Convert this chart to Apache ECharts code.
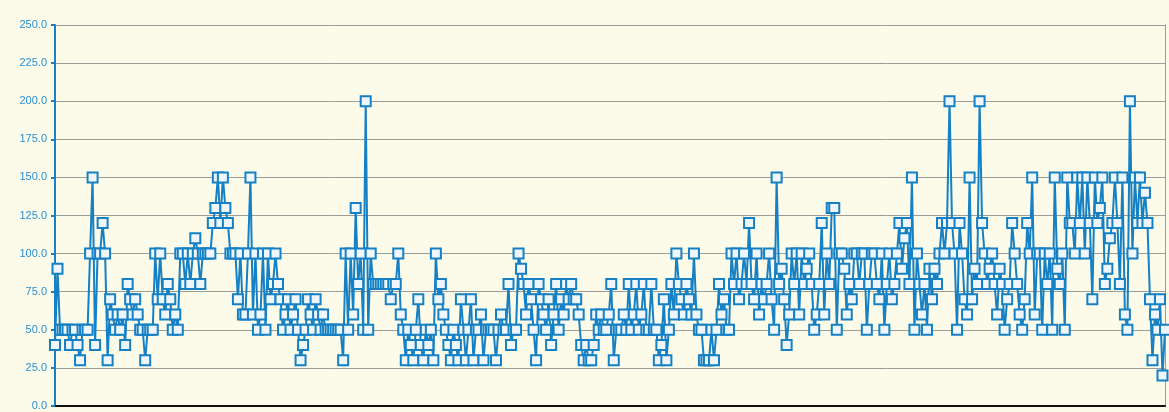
<!DOCTYPE html>
<html>
<head>
<meta charset="utf-8">
<script src="https://cdn.jsdelivr.net/npm/echarts@6/dist/echarts.min.js"></script>
<style>
html,body{margin:0;padding:0;background:#ffffff;}
#c{width:1169px;height:412px;}
</style>
</head>
<body>
<div id="c"></div>
<script>
// y-axis tick labels
var yTicks = [0, 25, 50, 75, 100, 125, 150, 175, 200, 225, 250];

// series values, read left to right in segments
var seg1 = [40,90,50,50,50,50,40,50, 50,40,30,50,50,50,100,150, 40,100,100,120,100,30,70,60,
            50,60,50,60,40,80,70,60, 70,60,50,50,30,50,50,50, 100,70,100,70,60,80,70,50,
            60,50,100,100,80,100,80,100, 110,100,80,100,100,100,100,120, 130,150,120,150,130,120,100,100,
            100,70,100,60,60,100,150,60, 100,50,60,100,50,100,70,80];
var seg2 = [100,80,70,50,60,70,50,60, 70,50,30,40,50,70,60,50, 70,60,50,60,50,50,50,50,
            50,50,50,30,100,50,100,60, 130,80,100,50,200,50,100,80, 80,80,80,80,80,80,70,80,
            80,100,60,50,30,50,40,30, 50,70,40,30,50,40,50,30, 100,70,80,60,50,40,30,50,
            40,30,70,50,30,50,70,30, 50,50,60,30,50,50,50,50, 30,50,60,50,50,80,40,50];
var seg3 = [50,100,90,80,60,80,70,50, 30,80,70,60,50,70,40,60, 80,50,70,60,80,70,80,70,
            70,60,40,30,40,30,30,40, 60,50,60,50,50,60,80,30, 50,50,50,60,50,80,50,60,
            80,50,60,80,50,50,80,50, 50,30,40,70,30,50,80,60, 100,80,70,60,80,70,60,100,
            60,50,50,30,30,30,50,30, 50,80,60,70,50,50,100,80];
var seg4 = [100,70,80,100,80,120,80,70, 100,60,80,70,80,100,70,50, 150,80,90,70,40,60,100,80,
            100,60,100,80,90,100,80,50, 60,80,120,60,100,80,130,130, 50,100,100,90,60,80,70,100,
            100,80,100,100,50,80,100,100, 80,70,100,50,80,100,70,80, 100,120,90,110,120,80,150,50,
            100,80,60,80,50,90,70,90];
var seg5 = [80,100,120,100,120,200,120,100, 50,120,100,70,60,150,70,90, 80,200,120,100,80,90,100,80,
            60,90,80,50,70,80,120,100, 80,60,50,70,120,100,150,60, 100,100,50,100,80,100,50,150,
            90,80,100,50,150,120,120,100, 150,120,150,100,150,120,70,150, 120,130,150,80,90,110,120,150,
            120,80,150,60,50,200,100,150, 120,150,120,140,120,70,30,60, 50,70,20,50];

var values = seg1.concat(seg2, seg3, seg4, seg5);
var categories = values.map(function(v, i){ return String(i + 1); });

var chart = echarts.init(document.getElementById('c'));
chart.setOption({
  backgroundColor: '#fcfae8',
  animation: false,
  grid: {left: 55, right: 4, top: 25, bottom: 6},
  xAxis: {
    type: 'category',
    data: categories,
    boundaryGap: false,
    axisLine: {show: true, lineStyle: {color: '#111111', width: 2}},
    axisTick: {show: false},
    axisLabel: {show: false},
    splitLine: {show: false}
  },
  yAxis: [{
    type: 'value',
    min: yTicks[0],
    max: yTicks[yTicks.length - 1],
    interval: yTicks[1] - yTicks[0],
    axisLine: {show: true, lineStyle: {color: '#1a80c4', width: 2}},
    axisTick: {show: true, length: 4, lineStyle: {color: '#1a80c4', width: 2}},
    axisLabel: {
      color: '#2b8fd0', fontSize: 11, fontFamily: 'Liberation Sans, Arial, sans-serif',
      margin: 8,
      formatter: function(v){ return v.toFixed(1); }
    },
    splitLine: {show: true, lineStyle: {color: '#9c9c98', width: 1}}
  }, {
    type: 'value',
    position: 'right',
    min: 0, max: 250, interval: 25,
    axisLine: {show: true, lineStyle: {color: '#9a9a96', width: 1}},
    axisTick: {show: false},
    axisLabel: {show: false},
    splitLine: {show: false}
  }],
  series: [{
    type: 'line',
    data: values,
    symbol: 'rect',
    symbolSize: 10,
    showAllSymbol: true,
    lineStyle: {color: '#1580c4', width: 2},
    itemStyle: {color: '#eef6fb', borderColor: '#1580c4', borderWidth: 2},
    emphasis: {disabled: true}
  }]
});
</script>
</body>
</html>
